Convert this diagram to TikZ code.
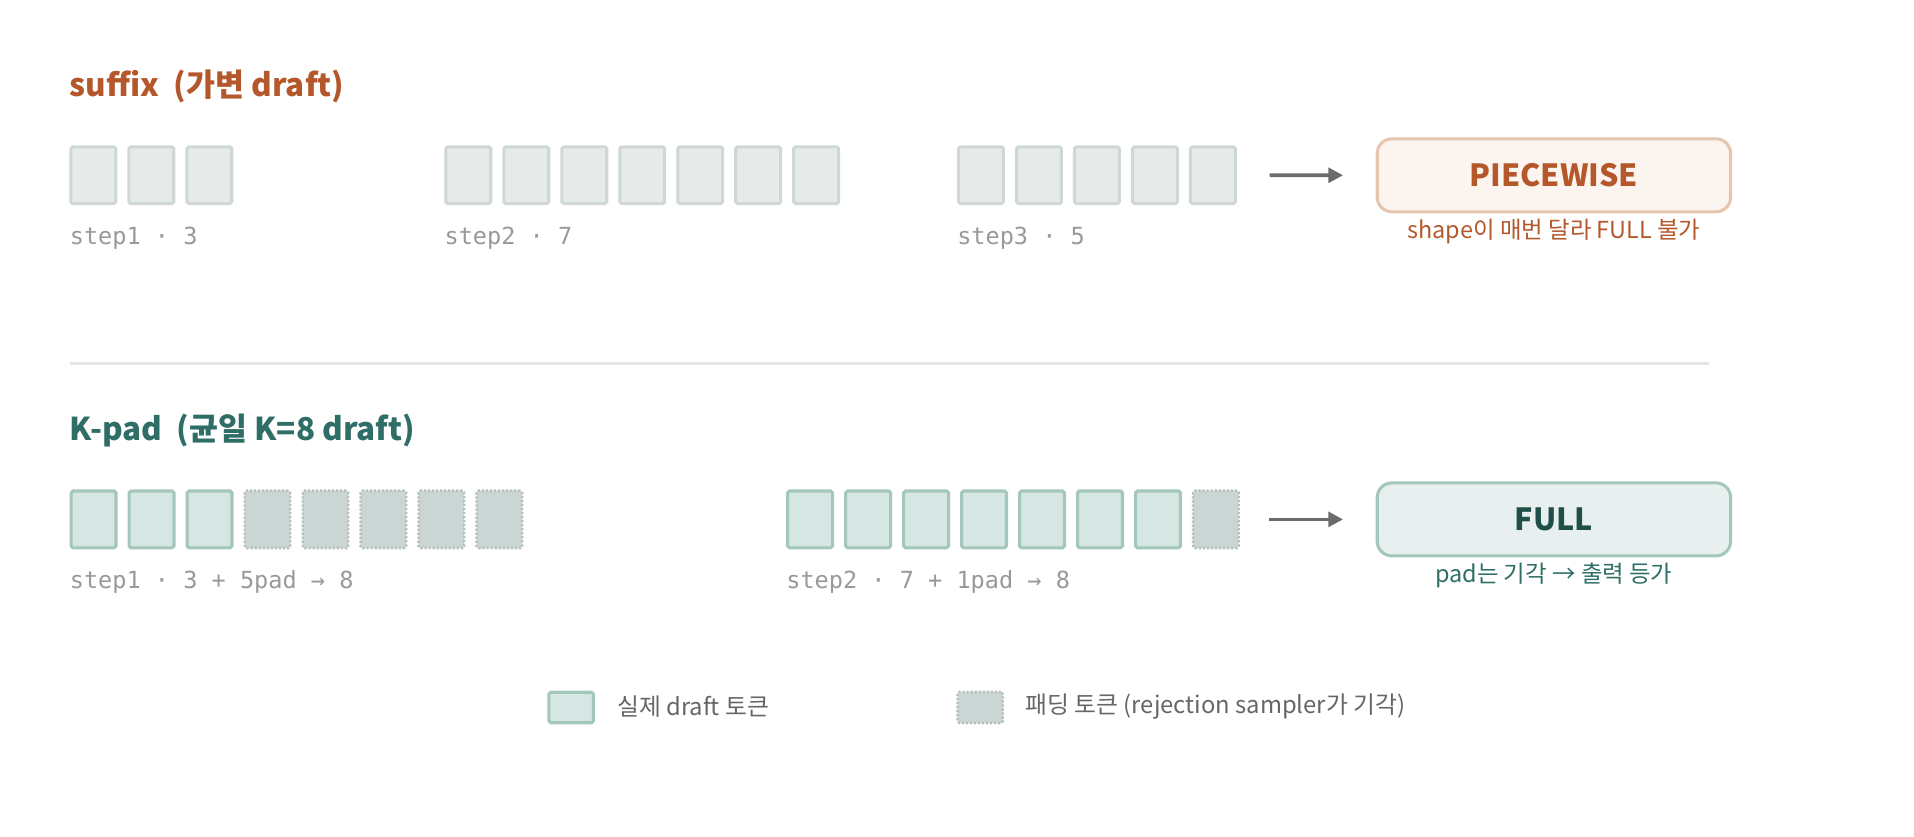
\documentclass[tikz,border=0pt]{standalone}
\usepackage{fontspec}
\setmainfont{Noto Sans CJK KR}
\setmonofont{DejaVu Sans Mono}
\usetikzlibrary{arrows.meta}
\definecolor{orng}{HTML}{B4582B}
\definecolor{teal}{HTML}{2E6E66}
\definecolor{tealdk}{HTML}{1F4F48}
\definecolor{gfill}{HTML}{E6EBE9}
\definecolor{gline}{HTML}{CFD8D5}
\definecolor{rfill}{HTML}{D6E6E2}
\definecolor{rline}{HTML}{A3C6BD}
\definecolor{pfill}{HTML}{CBD5D3}
\definecolor{pline}{HTML}{B5C0BE}
\definecolor{lblgray}{HTML}{999999}
\definecolor{arrgray}{HTML}{6B6B6B}
\definecolor{piecefill}{HTML}{FCF4EE}
\definecolor{pieceline}{HTML}{E6C5AF}
\definecolor{fullfill}{HTML}{E7F0EE}
\definecolor{sepgray}{HTML}{E5E5E5}
\definecolor{leggray}{HTML}{666666}
\tikzset{
  tok/.style={rectangle, minimum width=36.8pt, minimum height=46.5pt, inner sep=0pt, outer sep=0pt, line width=2.5pt, rounded corners=1.5pt},
  graybox/.style={tok, fill=gfill, draw=gline},
  realbox/.style={tok, fill=rfill, draw=rline},
  padbox/.style={tok, fill=pfill, draw=pline, line width=2pt, dash pattern=on 1.8pt off 1.5pt, minimum width=37.3pt, minimum height=47pt},
  ttl/.style={anchor=base west, inner sep=0pt, font=\fontsize{25.8}{31}\selectfont\bfseries},
  lbl/.style={anchor=base west, inner sep=0pt, text=lblgray, font=\fontsize{19.3}{23}\selectfont\ttfamily},
  sub/.style={anchor=base, inner sep=0pt, font=\fontsize{19.2}{24}\selectfont},
  res/.style={rectangle, rounded corners=12pt, line width=2.5pt, minimum width=289.5pt, minimum height=59.8pt, inner sep=0pt, outer sep=0pt, font=\fontsize{25}{30}\selectfont\bfseries},
  arr/.style={-{Triangle[length=12pt,width=12pt]}, line width=3pt, draw=arrgray},
  leg/.style={anchor=west, inner sep=0pt, text=leggray, font=\fontsize{19.5}{24}\selectfont},
}
\begin{document}
\begin{tikzpicture}[x=1pt,y=-1pt]
\useasboundingbox (0,0) rectangle (1568,684.9);
% ---- suffix section
\node[ttl, text=orng] (t1) at (57,79) {suffix\ \ (가변 draft)};
\foreach \i in {1,...,3} \node[graybox] (a\i) at ({76.45+47.5*(\i-1)},143.5) {};
\foreach \i in {1,...,7} \node[graybox] (b\i) at ({383.65+47.5*(\i-1)},143.5) {};
\foreach \i in {1,...,5} \node[graybox] (c\i) at ({803.65+47.5*(\i-1)},143.5) {};
\node[lbl] (la) at (57,200.7) {step1 · 3};
\node[lbl] (lb) at (364,200.7) {step2 · 7};
\node[lbl] (lc) at (784,200.7) {step3 · 5};
\node[res, fill=piecefill, draw=pieceline, text=orng] (piece) at (1273,143.6) {PIECEWISE};
\draw[arr] ([xshift=28pt]c5.east) -- ([xshift=-28pt]piece.west);
\node[sub, text=orng] (psub) at (1273,195) {shape이 매번 달라 FULL 불가};
% ---- separator
\coordinate (sepL) at (57,298);
\coordinate (sepR) at (1400,298);
\draw[sepgray, line width=2.5pt] (sepL) -- (sepR);
% ---- K-pad section
\node[ttl, text=teal] (t2) at (57,361) {K-pad\ \ (균일 K=8 draft)};
\foreach \i in {1,...,3} \node[realbox] (d\i) at ({76.65+47.5*(\i-1)},425.5) {};
\foreach \i in {4,...,8} \node[padbox] (d\i) at ({76.65+47.5*(\i-1)},425.5) {};
\foreach \i in {1,...,7} \node[realbox] (e\i) at ({663.65+47.5*(\i-1)},425.5) {};
\node[padbox] (e8) at ({663.65+47.5*7},425.5) {};
\node[lbl] (ld) at (57,482.5) {step1 · 3 + 5pad → 8};
\node[lbl] (le) at (644,482.5) {step2 · 7 + 1pad → 8};
\node[res, fill=fullfill, draw=rline, text=tealdk] (full) at (1273,425.5) {FULL};
\draw[arr] ([xshift=25pt]e8.east) -- ([xshift=-28pt]full.west);
\node[sub, text=teal] (fsub) at (1273,477.5) {pad는 기각 → 출력 등가};
% ---- legend
\node[realbox, minimum width=36.5pt, minimum height=25pt] (lg1) at (467.9,579.6) {};
\node[leg] (lg1t) at (505.5,579) {실제 draft 토큰};
\node[padbox, minimum width=37pt, minimum height=25.5pt] (lg2) at (803,579.6) {};
\node[leg] (lg2t) at (840,579) {패딩 토큰 (rejection sampler가 기각)};
\end{tikzpicture}
\end{document}
